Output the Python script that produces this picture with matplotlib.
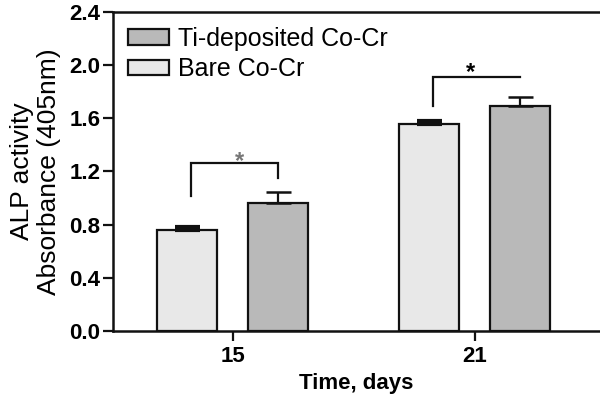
import matplotlib.pyplot as plt
import numpy as np

plt.rcParams['font.family'] = ['Liberation Sans', 'DejaVu Sans']

# Data
days = ['15', '21']
bare = [0.76, 1.555]
bare_err = [0.02, 0.025]
ti = [0.965, 1.69]
ti_err = [0.08, 0.07]

# significance brackets: top height, left leg bottom, right leg bottom
bracket_top = [1.266, 1.91]
bracket_left = [1.016, 1.69]
bracket_right = [1.15, 1.91]
star_y = [1.19, 1.86]
star_dx = [0.02, -0.025]
star_colors = ['#777777', 'black']

x = np.arange(len(days))
width = 0.248
off = 0.188

fig = plt.figure(figsize=(6, 3.94), dpi=100)
ax = fig.add_axes([0.188, 0.160, 0.812, 0.8095])

ax.bar(x - off, bare, width, color='#e8e8e8', edgecolor='#111111', linewidth=1.6,
       label='Bare Co-Cr', zorder=2)
ax.bar(x + off, ti, width, color='#b9b9b9', edgecolor='#111111', linewidth=1.6,
       label='Ti-deposited Co-Cr', zorder=2)
ax.errorbar(x - off, bare, yerr=[np.zeros(2), bare_err], fmt='none', ecolor='#111111',
            elinewidth=1.6, capsize=9, capthick=3, zorder=3)
ax.errorbar(x + off, ti, yerr=[np.zeros(2), ti_err], fmt='none', ecolor='#111111',
            elinewidth=1.6, capsize=9, capthick=1.8, zorder=3)

# brackets
for i in range(len(days)):
    xl, xr = x[i] - 0.172, x[i] + 0.185
    ax.plot([xl, xl, xr, xr], [bracket_left[i], bracket_top[i], bracket_top[i], bracket_right[i]],
            color='#111111', lw=1.6, solid_joinstyle='miter', zorder=3)
    ax.text((xl + xr) / 2 + star_dx[i], star_y[i], '*', ha='center', va='bottom',
            fontsize=17, fontweight='bold', color=star_colors[i], zorder=4)

ax.set_xlim(-0.496, 1.517)
ax.set_ylim(0, 2.4)
ax.set_yticks(np.arange(0, 2.41, 0.4))
ax.set_yticklabels([f'{v:.1f}' for v in np.arange(0, 2.41, 0.4)])
ax.set_xticks(x)
ax.set_xticklabels(days)
for lbl in ax.get_xticklabels() + ax.get_yticklabels():
    lbl.set_fontweight('bold')
    lbl.set_fontsize(16)
ax.tick_params(axis='both', direction='out', length=7, width=1.6, pad=2, color='#111111')
ax.tick_params(axis='x', pad=4)

for s in ['left', 'bottom', 'top']:
    ax.spines[s].set_linewidth(1.8)
    ax.spines[s].set_color('#111111')
ax.spines['right'].set_visible(False)

ax.set_xlabel('Time, days', fontsize=16, fontweight='bold', labelpad=4)
ax.set_ylabel('ALP activity\nAbsorbance (405nm)', fontsize=19, labelpad=6, linespacing=1.15)

handles, labels = ax.get_legend_handles_labels()
leg = ax.legend(handles[::-1], labels[::-1], loc='upper left', bbox_to_anchor=(0.0, 1.0),
                frameon=False, fontsize=18, handlelength=1.65, handleheight=0.6,
                handletextpad=0.35, labelspacing=0.25, borderaxespad=0.2)

fig.savefig('out.png', dpi=100)
